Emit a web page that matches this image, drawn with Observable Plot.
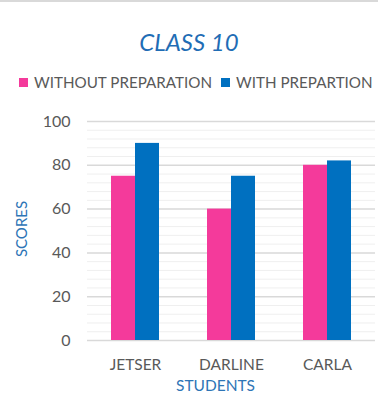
<!DOCTYPE html>
<html>
<head>
<meta charset="utf-8">
<script src="https://cdn.jsdelivr.net/npm/d3@7"></script>
<script src="https://cdn.jsdelivr.net/npm/@observablehq/plot@0.6"></script>
<style>
  html, body { margin: 0; padding: 0; background: #fff; }
  #wrap { position: relative; width: 378px; height: 413px; overflow: hidden; font-family: Lato, "Open Sans", sans-serif; }
  #topline { position: absolute; left: 0; top: 0; width: 378px; height: 2px; background: #d9d9d9; }
  #title { position: absolute; left: 0; top: 27px; width: 378px; text-align: center; font-size: 24px; font-style: italic; color: #1F6DB5; line-height: 30px; }
  #legend { position: absolute; left: 19px; top: 73px; font-size: 15.2px; color: #595959; line-height: 18px; white-space: nowrap; }
  .sw { display: inline-block; width: 9px; height: 9px; margin-right: 6px; vertical-align: 1px; }
  .item { display: inline-block; margin-right: 9px; }
  #chart { position: absolute; left: 0; top: 100px; }
</style>
</head>
<body>
<div id="wrap">
  <div id="topline"></div>
  <div id="title">CLASS 10</div>
  <div id="legend"></div>
  <div id="chart"></div>
</div>
<script>
const students = ["JETSER", "DARLINE", "CARLA"];
const withoutPreparation = [75, 60, 80];
const withPreparation = [90, 75, 82];
const seriesNames = ["WITHOUT PREPARATION", "WITH PREPARTION"];
const seriesColors = ["#F43A9B", "#0070C0"];
const majorTicks = [0, 20, 40, 60, 80, 100];
const minorTicks = d3.range(0, 101, 4).filter(v => v % 20 !== 0);

const data = students.map((s, i) => ({student: s, without: withoutPreparation[i], with: withPreparation[i]}));

const legend = document.getElementById("legend");
seriesNames.forEach((name, i) => {
  const item = document.createElement("span");
  item.className = "item";
  const sw = document.createElement("span");
  sw.className = "sw";
  sw.style.background = seriesColors[i];
  item.appendChild(sw);
  item.appendChild(document.createTextNode(name));
  legend.appendChild(item);
});

const chart = Plot.plot({
  width: 378,
  height: 313,
  marginTop: 21,
  marginBottom: 73,
  marginLeft: 87,
  marginRight: 3,
  style: {fontFamily: "Lato, 'Open Sans', sans-serif", fontSize: "15px", color: "#595959", background: "transparent", overflow: "visible"},
  x: {domain: students, paddingInner: 0.5, paddingOuter: 0.25, label: null},
  y: {domain: [0, 100], label: null},
  marks: [
    Plot.ruleY(minorTicks, {stroke: "#efefef", strokeWidth: 1}),
    Plot.ruleY(majorTicks, {stroke: "#d9d9d9", strokeWidth: 1.5}),
    Plot.barY(data, {x: "student", y: "without", fill: seriesColors[0], insetRight: 24, insetLeft: 0}),
    Plot.barY(data, {x: "student", y: "with", fill: seriesColors[1], insetLeft: 24, insetRight: 0}),
    Plot.axisX({tickSize: 0, tickPadding: 18, fontSize: 15.5, fill: "#595959", label: null}),
    Plot.axisY({ticks: majorTicks, tickSize: 0, tickPadding: 17, fontSize: 16, fill: "#595959", label: null}),
    Plot.text(["SCORES"], {text: d => d, frameAnchor: "left", textAnchor: "middle", lineAnchor: "middle", dx: -65, dy: -2, rotate: -90, fill: "#2E75B6", fontSize: 15}),
    Plot.text(["STUDENTS"], {text: d => d, frameAnchor: "bottom", textAnchor: "middle", lineAnchor: "middle", dx: -16, dy: 46, fill: "#2E75B6", fontSize: 15.5})
  ]
});
document.getElementById("chart").appendChild(chart);
</script>
</body>
</html>
